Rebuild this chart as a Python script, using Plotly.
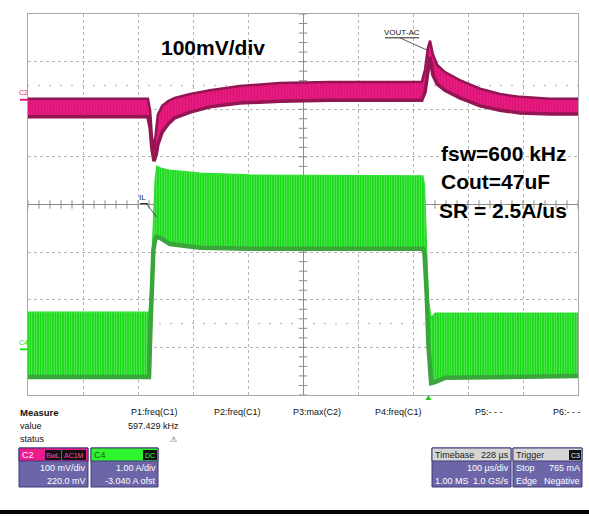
import plotly.graph_objects as go

# ---------------- data ----------------
# time relative to screen centre (µs); envelopes of the switching-ripple bands
t_c2 = [-500, -282, -278, -275, -271, -267, -264, -256, -245, -233, -205, -169, -115, -42,
        49, 216, 222, 227, 231, 236, 244, 258, 285, 322, 358, 395, 449, 500]
c2_hi = [2, 2, -22, -74, -106, -59, -32, -13, -3, 4, 12, 20, 29, 35,
         37, 37, 64, 108, 124, 96, 73, 58, 41, 23, 12, 6, 2, 2]          # mV
c2_lo = [-36, -36, -59, -101, -129, -116, -95, -68, -51, -38, -26, -15, -7, -3,
         -1, -1, 16, 62, 90, 52, 33, 20, 4, -13, -22, -28, -30, -30]     # mV

t_c4 = [-500, -280, -277, -274, -272, -269, -266, -260, -242, -187, -96,
        218, 221, 225, 228, 233, 240, 258, 500]
c4_hi = [0.78, 0.78, 1.24, 2.08, 2.82, 3.55, 3.85, 3.81, 3.76, 3.70, 3.66,
         3.64, 3.45, 1.98, 1.04, 0.66, 0.76, 0.76, 0.76]                  # A
c4_lo = [-0.58, -0.58, 0.57, 1.56, 2.08, 2.29, 2.36, 2.34, 2.21, 2.13, 2.11,
         2.11, 2.00, 1.14, 0.09, -0.71, -0.69, -0.60, -0.56]             # A

# channel settings (from the scope info boxes)
C2_SCALE, C2_OFFSET = 100.0, 220.0     # mV/div, mV
C4_SCALE, C4_OFFSET = 1.00, -3.040     # A/div, A
TIME_DIV = 100                         # µs/div
TRIG_T = 228                           # µs

measure_labels = ["P1:freq(C1)", "P2:freq(C1)", "P3:max(C2)", "P4:freq(C1)", "P5:- - -", "P6:- - -"]
measure_value = "597.429 kHz"


def c2_div(v):
    return (v + C2_OFFSET) / C2_SCALE


def c4_div(v):
    return (v + C4_OFFSET) / C4_SCALE


# ---------------- styling helpers ----------------
W, H = 589, 517
L, R, T, B = 28, 578, 14, 395
FN = "Liberation Sans, Arial, sans-serif"
FB = "Liberation Sans, Arial, sans-serif"
SZ = 9


def px(x):
    return (x - L) / (R - L)


def py(y):
    return (B - y) / (B - T)


fig = go.Figure()

# graticule ticks on the centre axes and dotted rows
gx = [k * TIME_DIV / 5 for k in range(-25, 26)]
gy = [k / 5 for k in range(-20, 21)]
fig.add_trace(go.Scatter(x=gx, y=[0] * len(gx), mode="markers", hoverinfo="skip",
                         marker=dict(symbol="line-ns", size=6, line=dict(width=1, color="#8c8c8c"))))
fig.add_trace(go.Scatter(x=[0] * len(gy), y=gy, mode="markers", hoverinfo="skip",
                         marker=dict(symbol="line-ew", size=6, line=dict(width=1, color="#8c8c8c"))))
fig.add_trace(go.Scatter(x=gx + gx, y=[2.5] * len(gx) + [-2.5] * len(gx), mode="markers", hoverinfo="skip",
                         marker=dict(symbol="square", size=1.6, color="#b8b8b8")))

# C4 inductor current band
fig.add_trace(go.Scatter(x=t_c4, y=[c4_div(v) for v in c4_hi], mode="lines",
                         line=dict(color="#30e030", width=1.2), hoverinfo="skip"))
fig.add_trace(go.Scatter(x=t_c4, y=[c4_div(v) for v in c4_lo], mode="lines", fill="tonexty",
                         fillcolor="#1fdc1f",
                         fillpattern=dict(shape="|", size=2.5, solidity=0.18, fgcolor="#9cf89c",
                                          bgcolor="#1ad81a", fillmode="replace"),
                         line=dict(color="#3aa53a", width=4.5), hoverinfo="skip"))

# C2 output voltage band
fig.add_trace(go.Scatter(x=t_c2, y=[c2_div(v) for v in c2_hi], mode="lines",
                         line=dict(color="#931552", width=2.5), hoverinfo="skip"))
fig.add_trace(go.Scatter(x=t_c2, y=[c2_div(v) for v in c2_lo], mode="lines", fill="tonexty",
                         fillcolor="#e8197f",
                         fillpattern=dict(shape="|", size=3, solidity=0.12, fgcolor="#b3125f",
                                          bgcolor="#e8197f", fillmode="replace"),
                         line=dict(color="#931552", width=3.5), hoverinfo="skip"))

ann = []
shapes = []


def txt(x, y, s, size=SZ, color="#111111", anchor="left", family=FN, ref="paper"):
    if ref == "paper":
        xx, yy = px(x), py(y)
    else:
        xx, yy = x, y
    ann.append(dict(xref="paper" if ref == "paper" else "x", yref="paper" if ref == "paper" else "y",
                    x=xx, y=yy, text=s, showarrow=False, xanchor=anchor, yanchor="middle",
                    borderpad=0, font=dict(size=size, color=color, family=family)))


def rect(x0, y0, x1, y1, fill, line=None, lw=0):
    shapes.append(dict(type="rect", xref="paper", yref="paper", x0=px(x0), x1=px(x1), y0=py(y1), y1=py(y0),
                       fillcolor=fill, line=dict(color=line or fill, width=lw), layer="above"))


def seg(x0, y0, x1, y1, color, width=1):
    shapes.append(dict(type="line", xref="x", yref="y",
                       x0=x0, y0=y0, x1=x1, y1=y1, line=dict(color=color, width=width), layer="above"))


# big annotations
txt(-163, 3.29, "<b>100mV/div</b>", size=21, color="#000000", anchor="center", family=FB, ref="data")
txt(249, 1.08, "<b>fsw=600 kHz</b>", size=21, color="#000000", family=FB, ref="data")
txt(249, 0.49, "<b>Cout=47uF</b>", size=21, color="#000000", family=FB, ref="data")
txt(246, -0.12, "<b>SR = 2.5A/us</b>", size=21, color="#000000", family=FB, ref="data")

# trace labels with leaders
txt(180, 3.61, "VOUT-AC", size=8, color="#222222", anchor="center", ref="data")
seg(149, 3.50, 211, 3.50, "#222222", 1)
seg(176, 3.50, 226, 3.24, "#333333", 0.8)
txt(-291, 0.14, "IL", size=8, color="#222222", anchor="center", ref="data")
seg(-296, 0.02, -282, 0.02, "#222222", 1)
seg(-285, 0.02, -266, -0.26, "#333333", 0.8)

# channel ground markers
shapes.append(dict(type="line", xref="paper", yref="y", x0=px(20), x1=px(28), y0=c2_div(0), y1=c2_div(0),
                   line=dict(color="#e8197f", width=2)))
ann.append(dict(xref="paper", yref="y", x=px(23), y=c2_div(0) + 0.05, text="C2", showarrow=False,
                xanchor="center", yanchor="bottom", borderpad=0, font=dict(size=7, color="#e8197f", family=FN)))
shapes.append(dict(type="line", xref="paper", yref="y", x0=px(20), x1=px(28), y0=c4_div(0), y1=c4_div(0),
                   line=dict(color="#22dd22", width=2)))
ann.append(dict(xref="paper", yref="y", x=px(23), y=c4_div(0) + 0.05, text="C4", showarrow=False,
                xanchor="center", yanchor="bottom", borderpad=0, font=dict(size=7, color="#22dd22", family=FN)))

# trigger position marker
tx = L + (TRIG_T + 5 * TIME_DIV) / (10 * TIME_DIV) * (R - L)
shapes.append(dict(type="path", xref="paper", yref="paper",
                   path=f"M {px(tx)},{py(395)} L {px(tx + 3)},{py(400)} L {px(tx - 3)},{py(400)} Z",
                   fillcolor="#22cc22", line=dict(width=0)))

# measurement table
txt(19, 412, "<b>Measure</b>", size=9.5)
txt(19, 426, "value", size=SZ)
txt(19, 439, "status", size=SZ)
mx = [154, 237, 317, 398, 489, 567]
for x, s in zip(mx, measure_labels):
    txt(x, 412, s, size=SZ, anchor="center")
txt(180, 426, measure_value, size=SZ, anchor="right")
txt(173, 439, "⚠", size=8, color="#555555", anchor="center", family="DejaVu Sans")

# channel / timebase boxes
BOX = "#6c66a8"
BOXL = "#3f3a78"
# C2
rect(19, 448, 88, 487, BOX, BOXL, 1)
rect(19, 448, 88, 461, "#ee1b8c", BOXL, 1)
txt(21, 454.5, "C2", size=SZ, color="#ffffff")
rect(45, 450, 61, 460, "#111111")
txt(53, 455, "BwL", size=7, color="#ff4aa8", anchor="center")
rect(62, 450, 86, 460, "#111111")
txt(74, 455, "AC1M", size=7, color="#ff4aa8", anchor="center")
txt(86.5, 468, "100 mV/div", size=SZ, color="#ffffff", anchor="right")
txt(86.5, 481, "220.0 mV", size=SZ, color="#ffffff", anchor="right")
# C4
rect(91, 448, 158, 487, BOX, BOXL, 1)
rect(91, 448, 158, 461, "#2ef52e", BOXL, 1)
txt(93, 454.5, "C4", size=SZ, color="#225522")
rect(143, 450, 157, 460, "#111111")
txt(150, 455, "DC", size=7, color="#3cff3c", anchor="center")
txt(157, 468, "1.00 A/div", size=SZ, color="#ffffff", anchor="right")
txt(157, 481, "-3.040 A ofst", size=SZ, color="#ffffff", anchor="right")
# Timebase
rect(432, 448, 511, 487, BOX, BOXL, 1)
rect(432, 448, 511, 461, "#d6d6d6", BOXL, 1)
txt(434, 454.5, "Timebase", size=SZ, color="#222222")
txt(510, 454.5, "228 µs", size=SZ, color="#222222", anchor="right")
txt(510, 468, "100 µs/div", size=SZ, color="#ffffff", anchor="right")
txt(434, 481, "1.00 MS", size=SZ, color="#ffffff")
txt(510, 481, "1.0 GS/s", size=SZ, color="#ffffff", anchor="right")
# Trigger
rect(513, 448, 582, 487, BOX, BOXL, 1)
rect(513, 448, 582, 461, "#d6d6d6", BOXL, 1)
txt(515, 454.5, "Trigger", size=SZ, color="#222222")
rect(569, 450, 581, 460, "#111111")
txt(575, 455, "C3", size=7, color="#e8e8e8", anchor="center")
txt(515, 468, "Stop", size=SZ, color="#ffffff")
txt(581, 468, "765 mA", size=SZ, color="#ffffff", anchor="right")
txt(515, 481, "Edge", size=SZ, color="#ffffff")
txt(581, 481, "Negative", size=SZ, color="#ffffff", anchor="right")

# bottom black rule
rect(0, 510, 589, 514, "#000000")

fig.update_layout(
    width=W, height=H, autosize=False,
    margin=dict(l=L, r=W - R, t=T, b=H - B, pad=0),
    paper_bgcolor="#ffffff", plot_bgcolor="#ffffff",
    showlegend=False,
    annotations=ann, shapes=shapes,
    xaxis=dict(range=[-5 * TIME_DIV, 5 * TIME_DIV], dtick=TIME_DIV, tick0=0, showticklabels=False,
               showgrid=True, gridcolor="#b4b4b4", griddash="dot", gridwidth=1,
               zeroline=True, zerolinecolor="#8c8c8c", zerolinewidth=1,
               showline=True, linecolor="#a8a8a8", linewidth=1, mirror=True, ticks="", fixedrange=True),
    yaxis=dict(range=[-4, 4], dtick=1, tick0=0, showticklabels=False,
               showgrid=True, gridcolor="#b4b4b4", griddash="dot", gridwidth=1,
               zeroline=True, zerolinecolor="#8c8c8c", zerolinewidth=1,
               showline=True, linecolor="#a8a8a8", linewidth=1, mirror=True, ticks="", fixedrange=True),
)

fig.write_html("out.html", config={"displayModeBar": False},
               post_script="document.body.style.margin='0px';document.body.style.padding='0px';")
